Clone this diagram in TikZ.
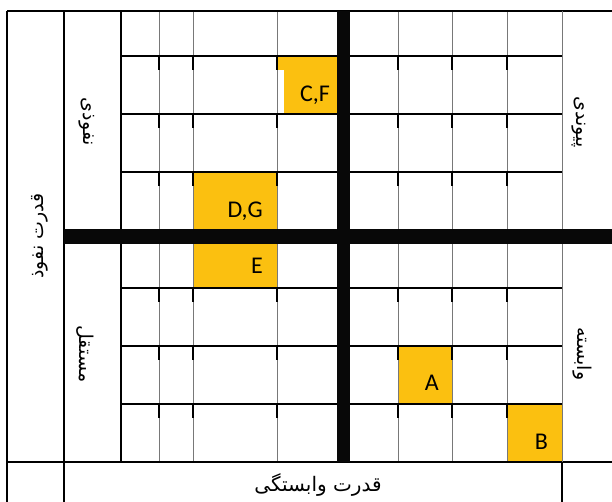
\documentclass[tikz,border=0pt]{standalone}
\usepackage{fontspec}
\setmainfont{Carlito}
\newfontfamily\fa[Script=Arabic]{DejaVu Sans}
\TeXXeTstate=1
\definecolor{cellyellow}{RGB}{251,192,16}
\definecolor{thingray}{RGB}{120,120,120}
\begin{document}
\begin{tikzpicture}[x=1pt,y=-1pt,
  blk/.style={line width=1.3pt,black},
  gry/.style={line width=1pt,thingray},
  bar/.style={fill=black!97},
  cell/.style={fill=cellyellow},
  lbl/.style={font=\fontsize{24}{24}\selectfont,anchor=base east,inner sep=0pt},
  fatext/.style={font=\fa\fontsize{19}{19}\selectfont,inner sep=0pt}]
\fill[white] (0,0) rectangle (612,502);
\useasboundingbox (0,0) rectangle (612,502);
% yellow cells
\fill[cell] (277,56) rectangle (337,70);
\fill[cell] (284,70) rectangle (337,114);
\fill[cell] (193,172) rectangle (277,288);
\fill[cell] (398,346) rectangle (452,404);
\fill[cell] (507,404) rectangle (562,462);
% gray inner verticals
\foreach \x in {159,193,277,398,452,507}
  \draw[gry] (\x,11) -- (\x,462);
% black ticks under each row line
\foreach \x in {159,193,277,398,452,507}
  \foreach \y in {56,114,172,288,346,404}
    \draw[blk] (\x,\y) -- (\x,\y+14);
% black horizontal row lines
\foreach \y in {56,114,172,288,346,404}
  \draw[blk] (121,\y) -- (562,\y);
% outer frame lines
\draw[blk] (7,11) -- (612,11);
\draw[blk] (7,462) -- (612,462);
\draw[blk] (7,11) -- (7,502);
\draw[blk] (64,11) -- (64,502);
\draw[blk] (121,11) -- (121,462);
\draw[gry] (562,11) -- (562,462);
\draw[blk] (562,462) -- (562,502);
\draw[line width=2.5pt] (7,229) -- (7,244);
% thick axes
\fill[bar] (337,11) rectangle (350,462);
\fill[bar] (64,229) rectangle (612,244);
% cell labels
\node[lbl] (cf) at (330,102) {C,F};
\node[lbl] (dg) at (263,218) {D,G};
\node[lbl] (e) at (263,273) {E};
\node[lbl] (a) at (439,390) {A};
\node[lbl] (b) at (548,449) {B};
% persian labels
\node[fatext,rotate=-90] (nofuzi) at (87,122) {\beginR نفوذی\endR};
\node[fatext,rotate=-90] (mostaghel) at (85,354) {\beginR مستقل\endR};
\node[fatext,rotate=90] (ghodratnofuz) at (40,236) {\beginR قدرت نفوذ\endR};
\node[fatext,rotate=-90] (peyvandi) at (579,122) {\beginR پیوندی\endR};
\node[fatext,rotate=-90] (vabaste) at (582,354) {\beginR وابسته\endR};
\node[fatext,font=\fa\fontsize{20}{20}\selectfont] (ghodratvab) at (318,485) {\beginR قدرت وابستگی\endR};
\end{tikzpicture}
\end{document}
